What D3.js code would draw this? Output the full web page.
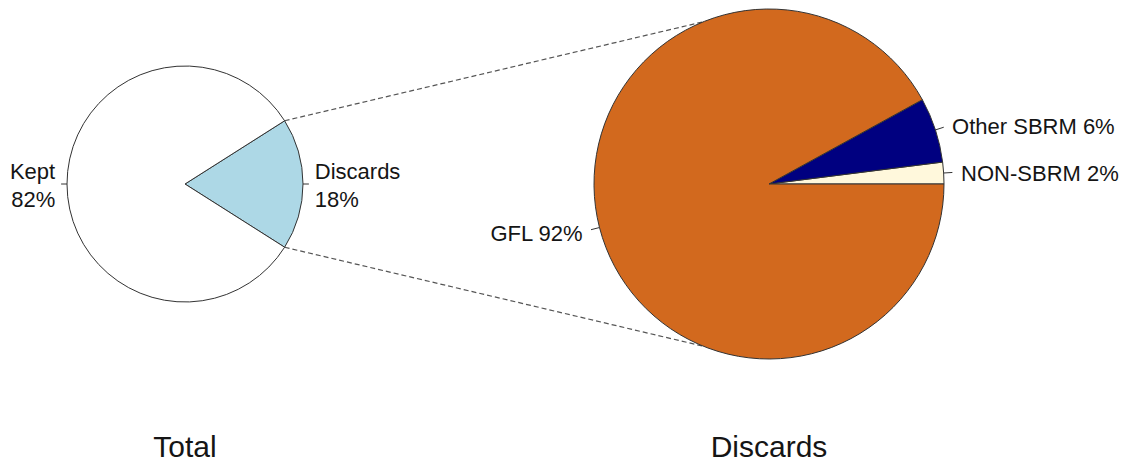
<!DOCTYPE html>
<html>
<head>
<meta charset="utf-8">
<script src="https://cdn.jsdelivr.net/npm/d3@7"></script>
<style>
  body { margin: 0; background: #fff; }
  text { font-family: "Liberation Sans", Arial, sans-serif; fill: #151515; }
</style>
</head>
<body>
<script>
'use strict';

// left pie: total catch
const totalLabels = ["Discards\n18%", "Kept\n82%"];
const totalValues = [18, 82];
const totalColors = ["#ADD8E6", "#FFFFFF"];

// right pie: discards breakdown
const discardLabels = ["NON-SBRM 2%", "Other SBRM 6%", "GFL 92%"];
const discardValues = [2, 6, 92];
const discardColors = ["#FFF8DC", "#000080", "#D2691E"];

const titles = ["Total", "Discards"];

const width = 1125, height = 466;
const svg = d3.select('body').append('svg')
  .attr('width', width)
  .attr('height', height);

// draw a pie the way R does it: counter-clockwise from a start angle
// startDeg is the math angle (0 = 3 o'clock)
function drawPie(cx, cy, r, values, labels, colors, startDeg) {
  const a0 = Math.PI / 2 - startDeg * Math.PI / 180;
  const pie = d3.pie().sort(null).value(d => d)
    .startAngle(a0)
    .endAngle(a0 - 2 * Math.PI);
  const arcs = pie(values);
  const arc = d3.arc().innerRadius(0).outerRadius(r);

  const g = svg.append('g').attr('transform', `translate(${cx},${cy})`);
  g.selectAll('path')
    .data(arcs)
    .enter()
    .append('path')
    .attr('d', arc)
    .attr('fill', (d, i) => colors[i])
    .attr('stroke', '#333')
    .attr('stroke-width', 1);

  arcs.forEach((d, i) => {
    const m = (d.startAngle + d.endAngle) / 2;
    const sx = Math.sin(m), sy = -Math.cos(m);
    // small tick out of the edge
    g.append('line')
      .attr('x1', r * sx).attr('y1', r * sy)
      .attr('x2', 1.05 * r * sx).attr('y2', 1.05 * r * sy)
      .attr('stroke', '#333')
      .attr('stroke-width', 1);
    const tx = 1.1 * r * sx, ty = 1.1 * r * sy;
    const lines = labels[i].split('\n');
    const t = g.append('text')
      .attr('x', tx)
      .attr('text-anchor', tx >= 0 ? 'start' : 'end')
      .style('font-size', '22px');
    lines.forEach((s, k) => {
      const off = lines.length === 1 ? 9 : -5 + k * 28;
      t.append('tspan').attr('x', tx).attr('y', ty + off).text(s);
    });
  });
}

const left = { cx: 185, cy: 184, r: 118 };
const right = { cx: 769, cy: 184, r: 175 };

// dashed connector lines from the discards slice to the big pie
const edgeDeg = 18 / 100 * 180;
const joinDeg = 112;
[1, -1].forEach(s => {
  const la = s * edgeDeg * Math.PI / 180;
  const ra = s * joinDeg * Math.PI / 180;
  svg.append('line')
    .attr('x1', left.cx + left.r * Math.cos(la))
    .attr('y1', left.cy - left.r * Math.sin(la))
    .attr('x2', right.cx + right.r * Math.cos(ra))
    .attr('y2', right.cy - right.r * Math.sin(ra))
    .attr('stroke', '#555')
    .attr('stroke-width', 1.2)
    .attr('stroke-dasharray', '5,3');
});

drawPie(left.cx, left.cy, left.r, totalValues, totalLabels, totalColors, -edgeDeg);
drawPie(right.cx, right.cy, right.r, discardValues, discardLabels, discardColors, 0);

// titles under each pie
[left, right].forEach((p, i) => {
  svg.append('text')
    .attr('x', p.cx)
    .attr('y', 457)
    .attr('text-anchor', 'middle')
    .style('font-size', '30px')
    .text(titles[i]);
});
</script>
</body>
</html>
